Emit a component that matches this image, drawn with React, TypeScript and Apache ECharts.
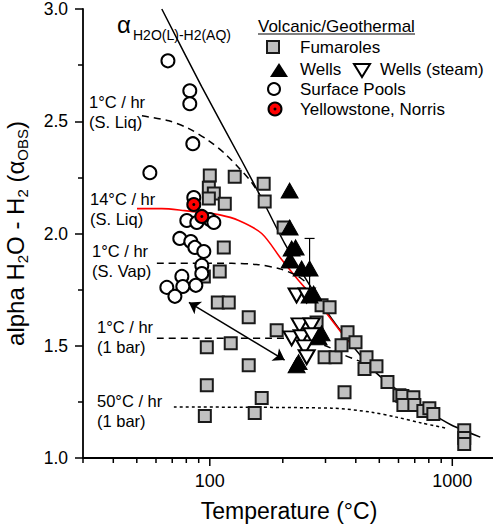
import React, { useEffect, useRef } from 'react';
import * as echarts from 'echarts';

const FONT = '"Liberation Sans", Arial, Helvetica, sans-serif';

// ---- data (temperature °C, alpha) ----
const fumaroles: number[][] = [
  [100, 2.258], [99.1, 2.204], [103.9, 2.178], [99.1, 2.156], [126.7, 2.253], [115.3, 2.133],
  [166.8, 2.222], [168.4, 2.142], [201.6, 2.027], [114.2, 1.938], [109.9, 1.831], [94.5, 1.809],
  [107.9, 1.693], [119.7, 1.693], [144.7, 1.627], [97.2, 1.493], [122, 1.511], [144.7, 1.413],
  [97.2, 1.324], [163.7, 1.267], [153.2, 1.2], [95.4, 1.187], [188.7, 1.569], [289, 1.68],
  [311.8, 1.671], [297.4, 1.449], [330, 1.449], [349.3, 1.502], [369.8, 1.56], [398.9, 1.516],
  [359.4, 1.293], [442.8, 1.449], [434.5, 1.396], [486.7, 1.409], [540.3, 1.338], [605.2, 1.28],
  [622.6, 1.276], [691.1, 1.271], [628.5, 1.236], [697.6, 1.236], [759.8, 1.209], [804.3, 1.222],
  [835.4, 1.196], [1120, 1.124], [1120, 1.089], [1120, 1.062], [275.6, 1.604],
];
const wells: number[][] = [
  [213.4, 2.191], [213.4, 2.027], [217.5, 1.933], [225.9, 1.938], [213.4, 1.88], [239.1, 1.844],
  [257.9, 1.844], [267.9, 1.733], [257.9, 1.724], [289, 1.556], [280.9, 1.538], [232.4, 1.427],
  [228, 1.413],
];
const wellsSteam: number[][] = [
  [228, 1.724], [250.9, 1.724], [234.6, 1.591], [262.8, 1.591], [217.5, 1.533], [239.1, 1.538],
  [262.8, 1.547], [246, 1.493], [250.9, 1.449],
];
const surfacePools: number[][] = [
  [67.2, 2.769], [82.7, 2.636], [82.7, 2.578], [85.1, 2.4], [56.6, 2.271], [85.9, 2.16],
  [80.4, 2.058], [88.4, 2.049], [100, 2.062], [103.9, 2.049], [75.2, 1.978], [83.5, 1.964],
  [86.8, 1.938], [94.5, 1.92], [92.7, 1.858], [92.7, 1.822], [76.7, 1.809], [87.6, 1.769],
  [66.5, 1.76], [77.4, 1.764], [71.8, 1.72],
];
const yellowstone: number[][] = [[85.9, 2.129], [92.7, 2.076]];
const wellError: number[][] = [[257.9, 1.844, 1.711, 1.978]];

// model curves
const eqLine: number[][] = [
  [63.4, 3.0], [92.7, 2.653], [135.4, 2.324], [163.7, 2.156], [203.5, 1.956], [255.5, 1.778],
  [317.7, 1.622], [395.2, 1.489], [486.7, 1.378], [616.8, 1.289], [781.6, 1.213], [990.6, 1.147],
  [1304, 1.093],
];
const rate14Liq: number[][] = [
  [50.1, 2.111], [63.4, 2.111], [78.9, 2.102], [92.7, 2.093], [108.9, 2.084], [131.6, 2.058],
  [163.7, 2.0], [197.8, 1.884], [232.4, 1.791], [280.9, 1.689], [373.3, 1.516],
];
const rate1Liq: number[][] = [
  [52.5, 2.524], [67.8, 2.502], [82.0, 2.467], [99.1, 2.413], [115.3, 2.356], [131.6, 2.293],
  [148.9, 2.227], [166.8, 2.142],
];
const rate1Vap: number[][] = [
  [60.5, 1.867], [123.2, 1.867], [156.1, 1.862], [192.3, 1.844], [228, 1.813], [255.5, 1.773],
];
const rate1Bar: number[][] = [
  [60.5, 1.533], [207, 1.533], [262, 1.52], [311, 1.493], [359, 1.458], [455, 1.415],
];
const rate50Bar: number[][] = [
  [71.1, 1.227], [317.7, 1.222], [464.2, 1.204], [588.2, 1.182], [745.5, 1.156], [944.7, 1.133],
];
const arrowPts: number[][] = [[82, 1.693], [203.5, 1.436]];

const xTickValues = [30, 40, 50, 60, 70, 80, 90, 100, 200, 300, 400, 500, 600, 700, 800, 900, 1000];

const isPow10 = (v: number) => Math.abs(Math.log10(v) - Math.round(Math.log10(v))) < 1e-6;

const txt = (text: string, x: number, y: number, size: number, extra: any = {}) => ({
  type: 'text',
  x,
  y,
  silent: true,
  style: { text, fontSize: size, fontFamily: FONT, fill: '#000', verticalAlign: 'middle', align: 'left', ...extra },
});

export default function App() {
  const ref = useRef<HTMLDivElement>(null);
  useEffect(() => {
    const chart = echarts.init(ref.current!, null, { renderer: 'svg' });
    const lineSeries = (name: string, data: number[][], color: string, type: any, width = 1.5, smooth: any = 0.3) => ({
      type: 'line',
      name,
      data,
      showSymbol: false,
      symbol: 'none',
      smooth,
      silent: true,
      z: 1,
      lineStyle: { color, width, type },
    });
    const option: any = {
      animation: false,
      backgroundColor: '#fff',
      grid: { left: 83, top: 9, width: 412, height: 449, containLabel: false, outerBoundsMode: 'none' },
      xAxis: {
        type: 'log',
        logBase: 10,
        min: 30,
        max: 1500,
        name: 'Temperature (°C)',
        nameLocation: 'middle',
        nameGap: 41,
        nameTextStyle: { fontSize: 23, fontFamily: FONT, color: '#000' },
        axisLine: { show: true, onZero: false, lineStyle: { color: '#000', width: 1.8 } },
        axisTick: { show: false },
        axisLabel: {
          margin: 14,
          fontSize: 18,
          fontFamily: FONT,
          color: '#000',
          showMinLabel: false,
          showMaxLabel: false,
          formatter: (v: number) => (isPow10(v) ? String(Math.round(v)) : ''),
        },
        splitLine: { show: false },
      },
      yAxis: {
        type: 'value',
        min: 1,
        max: 3,
        interval: 0.5,
        name: 'alpha H{s|2}O - H{s|2} (α{s|OBS})',
        nameLocation: 'middle',
        nameGap: 53,
        nameTextStyle: {
          fontSize: 24,
          fontFamily: FONT,
          color: '#000',
          lineHeight: 30,
          rich: { s: { fontSize: 15, lineHeight: 15, verticalAlign: 'bottom', fontFamily: FONT, color: '#000' } },
        },
        axisLine: { show: true, onZero: false, lineStyle: { color: '#000', width: 1.8 } },
        axisTick: { show: true, length: 8, lineStyle: { color: '#000', width: 1.5 } },
        minorTick: { show: true, splitNumber: 2, length: 5, lineStyle: { color: '#000', width: 1.5 } },
        axisLabel: {
          margin: 15,
          fontSize: 17.5,
          lineHeight: 14,
          fontFamily: FONT,
          color: '#000',
          formatter: (v: number) => v.toFixed(1),
        },
        splitLine: { show: false },
      },
      series: [
        lineSeries('eq', eqLine, '#000', 'solid', 1.5, 0.25),
        lineSeries('14C/hr S.Liq', rate14Liq, '#ff0000', 'solid', 1.6),
        lineSeries('1C/hr S.Liq', rate1Liq, '#000', [7, 5], 1.5),
        lineSeries('1C/hr S.Vap', rate1Vap, '#000', [7, 5], 1.5),
        lineSeries('1C/hr 1bar', rate1Bar, '#000', [7, 5], 1.5),
        lineSeries('50C/hr 1bar', rate50Bar, '#000', [3, 3], 1.5),
        {
          type: 'lines',
          coordinateSystem: 'cartesian2d',
          data: [{ coords: arrowPts }],
          symbol: ['arrow', 'arrow'],
          symbolSize: 11,
          silent: true,
          z: 3,
          lineStyle: { color: '#000', width: 1.5, opacity: 1 },
        },
        {
          type: 'scatter',
          name: 'Fumaroles',
          data: fumaroles,
          symbol: 'rect',
          symbolSize: 12,
          z: 2,
          itemStyle: { color: '#c0c0c0', borderColor: '#1a1a1a', borderWidth: 2, opacity: 1 },
        },
        {
          type: 'scatter',
          name: 'Surface Pools',
          data: surfacePools,
          symbol: 'circle',
          symbolSize: 13,
          z: 3,
          itemStyle: { color: '#fff', borderColor: '#000', borderWidth: 2, opacity: 1 },
        },
        {
          type: 'custom',
          name: 'err',
          data: wellError,
          encode: { x: 0, y: 1 },
          silent: true,
          z: 4,
          renderItem: (params: any, api: any) => {
            const x = api.value(0);
            const top = api.coord([x, api.value(3)]);
            const bot = api.coord([x, api.value(2)]);
            const st = { stroke: '#000', lineWidth: 1.2 };
            return {
              type: 'group',
              children: [
                { type: 'line', shape: { x1: top[0], y1: top[1], x2: bot[0], y2: bot[1] }, style: st },
                { type: 'line', shape: { x1: top[0] - 5, y1: top[1], x2: top[0] + 5, y2: top[1] }, style: st },
                { type: 'line', shape: { x1: bot[0] - 5, y1: bot[1], x2: bot[0] + 5, y2: bot[1] }, style: st },
              ],
            };
          },
        },
        {
          type: 'scatter',
          name: 'Wells (steam)',
          data: wellsSteam,
          symbol: 'triangle',
          symbolRotate: 180,
          symbolSize: [16, 14],
          z: 4,
          itemStyle: { color: '#fff', borderColor: '#000', borderWidth: 2, opacity: 1 },
        },
        {
          type: 'scatter',
          name: 'Wells',
          data: wells,
          symbol: 'triangle',
          symbolSize: [17, 15],
          z: 5,
          itemStyle: { color: '#000', borderColor: '#000', borderWidth: 1, opacity: 1 },
        },
        {
          type: 'scatter',
          name: 'Yellowstone, Norris',
          data: yellowstone,
          symbol: 'circle',
          symbolSize: 13,
          z: 6,
          itemStyle: { color: '#ff0000', borderColor: '#000', borderWidth: 2, opacity: 1 },
        },
        {
          type: 'scatter',
          name: 'Yellowstone dot',
          data: yellowstone,
          symbol: 'circle',
          symbolSize: 3,
          z: 7,
          silent: true,
          itemStyle: { color: '#000', opacity: 1 },
        },
        {
          type: 'custom',
          name: 'xticks',
          data: xTickValues.map((v) => [v, 1]),
          encode: { x: 0, y: 1 },
          silent: true,
          clip: false,
          z: 10,
          renderItem: (params: any, api: any) => {
            const v = api.value(0);
            const p = api.coord([v, api.value(1)]);
            const len = isPow10(v) ? 8 : 5;
            return {
              type: 'line',
              shape: { x1: p[0], y1: p[1], x2: p[0], y2: p[1] + len },
              style: { stroke: '#000', lineWidth: 1.5 },
            };
          },
        },
      ],
      graphic: [
        // equilibrium label
        txt('α', 117, 24, 24),
        txt('H2O(L)-H2(AQ)', 133, 35, 14),
        // curve labels
        txt('1°C / hr', 89, 102.3, 16.5),
        txt('(S. Liq)', 89, 122.3, 16.5),
        txt('14°C / hr', 90, 199.3, 16.5),
        txt('(S. Liq)', 90, 219.3, 16.5),
        txt('1°C / hr', 92, 251.3, 16.5),
        txt('(S. Vap)', 92, 271.3, 16.5),
        txt('1°C / hr', 97, 327.3, 16.5),
        txt('(1 bar)', 97, 347.3, 16.5),
        txt('50°C / hr', 97, 400.5, 16.5),
        txt('(1 bar)', 97, 420.5, 16.5),
        // legend
        txt('Volcanic/Geothermal', 258, 26, 17),
        { type: 'line', silent: true, shape: { x1: 258, y1: 34, x2: 415, y2: 34 }, style: { stroke: '#000', lineWidth: 1 } },
        { type: 'rect', silent: true, shape: { x: 267, y: 41, width: 12, height: 12 }, style: { fill: '#c0c0c0', stroke: '#1a1a1a', lineWidth: 2 } },
        txt('Fumaroles', 300, 47.5, 17),
        { type: 'polygon', silent: true, shape: { points: [[270, 77], [288, 77], [279, 63]] }, style: { fill: '#000' } },
        txt('Wells', 300, 69.5, 17),
        { type: 'polygon', silent: true, shape: { points: [[354, 64], [370, 64], [362, 77]] }, style: { fill: '#fff', stroke: '#000', lineWidth: 2 } },
        txt('Wells (steam)', 380, 69.5, 17),
        { type: 'circle', silent: true, shape: { cx: 274, cy: 89, r: 6 }, style: { fill: '#fff', stroke: '#000', lineWidth: 2 } },
        txt('Surface Pools', 300, 89.5, 17),
        { type: 'circle', silent: true, shape: { cx: 275, cy: 109, r: 6.5 }, style: { fill: '#ff0000', stroke: '#000', lineWidth: 2 } },
        { type: 'circle', silent: true, z: 101, shape: { cx: 275, cy: 109, r: 1.5 }, style: { fill: '#000' } },
        txt('Yellowstone, Norris', 300, 109.5, 17),
      ],
    };
    chart.setOption(option);
    return () => chart.dispose();
  }, []);
  return (
    <div
      ref={ref}
      style={{ position: 'fixed', left: 0, top: 0, width: 493, height: 528, background: '#fff' }}
    />
  );
}
